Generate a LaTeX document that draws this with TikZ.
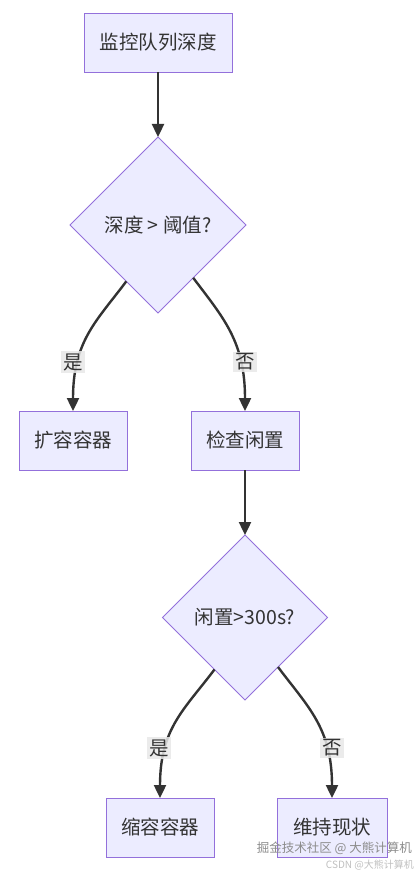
\documentclass[tikz,border=0pt]{standalone}
\usepackage{fontspec}
\newfontfamily\cjk{Noto Sans CJK SC}
\usetikzlibrary{shapes.geometric,arrows.meta,calc}
\definecolor{nodefill}{HTML}{ECECFF}
\definecolor{nodeline}{HTML}{9370DB}
\definecolor{edgeline}{HTML}{333333}
\definecolor{lblbg}{HTML}{E8E8E8}
\definecolor{txt}{HTML}{333333}
\begin{document}
\begin{tikzpicture}[x=1pt,y=-1pt,
  font=\cjk\fontsize{19.5}{22}\selectfont,
  procbox/.style={draw=nodeline,fill=nodefill,line width=0.9pt,text=txt,
    minimum width=108pt,minimum height=59pt,inner sep=0pt,outer sep=0pt},
  decide/.style={draw=nodeline,fill=nodefill,line width=0.9pt,text=txt,diamond,aspect=1,
    minimum width=#1,minimum height=#1,inner sep=0pt,outer sep=0pt},
  flow/.style={draw=edgeline,line width=2.4pt,-{Triangle[length=13pt,width=12pt]}},
  lbl/.style={fill=lblbg,fill opacity=0.85,text opacity=1,text=txt,inner sep=2pt}]
\useasboundingbox (0,0) rectangle (418,872);
\node[procbox,minimum width=148pt] (n1) at (158,42.5) {监控队列深度};
\node[decide=176pt] (d1) at (158,225) {深度 > 阈值?};
\node[procbox] (n2) at (73,440.5) {扩容容器};
\node[procbox] (n3) at (245,440.5) {检查闲置};
\node[decide=165pt] (d2) at (245,617.5) {闲置>300s?};
\node[procbox] (n4) at (160,827.5) {缩容容器};
\node[procbox,minimum width=110pt] (n5) at (332,827.5) {维持现状};

\coordinate (d1l) at ($(d1.west)!0.64!(d1.south)$);
\coordinate (d1r) at ($(d1.east)!0.60!(d1.south)$);
\coordinate (d2l) at ($(d2.west)!0.63!(d2.south)$);
\coordinate (d2r) at ($(d2.east)!0.60!(d2.south)$);

\draw[flow] (n1) -- (d1);
\draw[flow] (d1l) .. controls ($(d1l)+(-30,40)$) and ($(n2.north)+(0,-70)$) .. (n2.north);
\draw[flow] (d1r) .. controls ($(d1r)+(30,40)$) and ($(n3.north)+(0,-70)$) .. (n3.north);
\draw[flow] (n3) -- (d2);
\draw[flow] (d2l) .. controls ($(d2l)+(-30,40)$) and ($(n4.north)+(0,-70)$) .. (n4.north);
\draw[flow] (d2r) .. controls ($(d2r)+(30,40)$) and ($(n5.north)+(0,-70)$) .. (n5.north);

\node[lbl] (l1) at (73,362) {是};
\node[lbl] (l2) at (245,362) {否};
\node[lbl] (l3) at (159,748) {是};
\node[lbl] (l4) at (332,748) {否};

\node[text=black!45,font=\cjk\fontsize{12.5}{15}\selectfont,anchor=east,inner sep=0pt] (w1) at (412,848) {掘金技术社区 @ 大熊计算机};
\node[text=black!25,font=\cjk\fontsize{10}{12}\selectfont,anchor=east,inner sep=0pt] (w2) at (414,865) {CSDN @大熊计算机};
\end{tikzpicture}
\end{document}
